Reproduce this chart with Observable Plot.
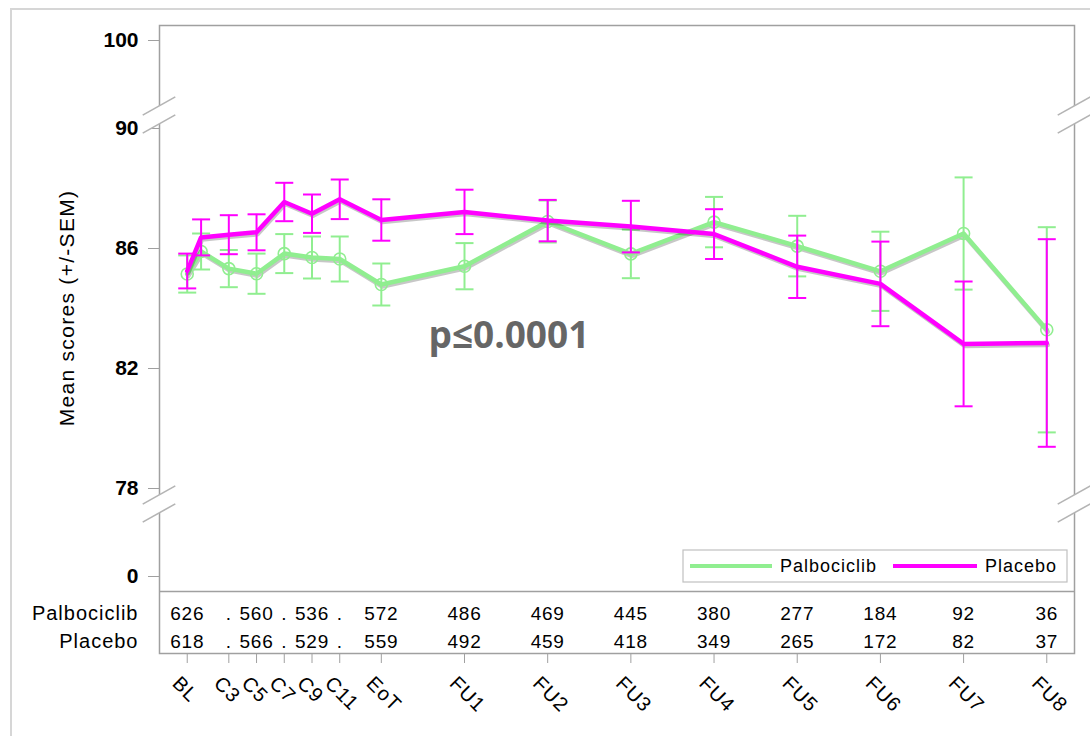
<!DOCTYPE html>
<html><head><meta charset="utf-8">
<script src="https://cdn.jsdelivr.net/npm/d3@7"></script>
<script src="https://cdn.jsdelivr.net/npm/@observablehq/plot@0.6"></script>
<style>
html,body{margin:0;padding:0;background:#fff;}
#wrap{position:relative;width:1090px;height:736px;overflow:hidden;}
#border{position:absolute;left:10px;top:8px;width:1100px;height:760px;border:2px solid #d6d6d6;box-sizing:border-box;}
#chart{position:absolute;left:0;top:0;}
g[aria-description="n-table"] text {letter-spacing:0.8px;}
g[aria-description="row-label"] text, g[aria-description="visit-label"] text, g[aria-label="legend"] text {letter-spacing:1px;}
g[aria-description="y-title"] text {letter-spacing:1.3px;}
</style></head><body>
<div id="wrap"><div id="border"></div><div id="chart"></div></div>
<script>
// ---- data ----
const visits      = ["BL","C1","C3","C5","C7","C9","C11","EoT","FU1","FU2","FU3","FU4","FU5","FU6","FU7","FU8"];
const visitTime   = [0, 1, 3, 5, 7, 9, 11, 14, 20, 26, 32, 38, 44, 50, 56, 62];
const palboMean   = [85.15, 85.90, 85.33, 85.16, 85.83, 85.70, 85.65, 84.80, 85.41, 86.90, 85.82, 86.88, 86.08, 85.24, 86.50, 83.29];
const palboSEM    = [0.62, 0.60, 0.62, 0.67, 0.65, 0.70, 0.75, 0.70, 0.77, 0.70, 0.81, 0.84, 1.01, 1.32, 1.87, 3.42];
const placeboMean = [85.25, 86.37, 86.46, 86.54, 87.55, 87.16, 87.64, 86.95, 87.22, 86.93, 86.73, 86.48, 85.39, 84.82, 82.82, 82.85];
const placeboSEM  = [0.58, 0.60, 0.65, 0.60, 0.64, 0.64, 0.66, 0.69, 0.74, 0.69, 0.86, 0.83, 1.04, 1.41, 2.08, 3.46];

const tickVisits  = ["BL","C3","C5","C7","C9","C11","EoT","FU1","FU2","FU3","FU4","FU5","FU6","FU7","FU8"];
const palboN      = ["626",".","560",".","536",".","572","486","469","445","380","277","184","92","36"];
const placeboN    = ["618",".","566",".","529",".","559","492","459","418","349","265","172","82","37"];

const seriesNames  = ["Palbociclib","Placebo"];
const seriesColors = ["#90EE90","#FF00FF"];
const yTicks       = [0, 78, 82, 86, 90, 100];
const yBreaks      = [0, 78, 90, 100];
const yTitle       = "Mean scores (+/-SEM)";
const pLabel       = {text: "p\u22640.0001", t: 23.2, v: 83.07};

// ---- derived tables ----
const timeOf = v => visitTime[visits.indexOf(v)];
const palbo = visits.map((v,i) => ({v, t: visitTime[i], mean: palboMean[i], sem: palboSEM[i]}));
const placebo = visits.map((v,i) => ({v, t: visitTime[i], mean: placeboMean[i], sem: placeboSEM[i]}));
const tableRows = tickVisits.map((v,i) => ({v, t: timeOf(v), a: palboN[i], b: placeboN[i]}));

const cap = {draw(ctx){ ctx.moveTo(-9,0); ctx.lineTo(9,0); }};

function errorBars(data, color) {
  return [
    Plot.ruleX(data, {x: "t", y1: d => d.mean - d.sem, y2: d => d.mean + d.sem, stroke: color, strokeWidth: 2}),
    Plot.dot(data, {x: "t", y: d => d.mean - d.sem, symbol: cap, fill: "none", stroke: color, strokeWidth: 2}),
    Plot.dot(data, {x: "t", y: d => d.mean + d.sem, symbol: cap, fill: "none", stroke: color, strokeWidth: 2})
  ];
}
function shadow(data) {
  return Plot.line(data, {x: "t", y: "mean", stroke: "#000", strokeOpacity: 0.22, strokeWidth: 4.5, dx: 1, dy: 2});
}

function breakMarks(index, scales, values, dims) {
  const g = d3.create("svg:g").attr("aria-label", "axis-break");
  const y = scales.y;
  const xs = [dims.marginLeft, dims.width - dims.marginRight];
  const centers = [y(yBreaks[2]) - 13, y(yBreaks[1]) + 16];
  for (const x of xs) for (const c of centers) {
    g.append("path")
      .attr("d", `M${x-16},${c}L${x+16},${c-18}L${x+16},${c}L${x-16},${c+18}Z`)
      .attr("fill", "white");
    for (const off of [-9, 9]) {
      g.append("line")
        .attr("x1", x - 16.3).attr("y1", c + off + 9.15)
        .attr("x2", x + 16.3).attr("y2", c + off - 9.15)
        .attr("stroke", "#b4b4b4").attr("stroke-width", 1.6);
    }
  }
  return g.node();
}

function legendMark(index, scales, values, dims) {
  const g = d3.create("svg:g").attr("aria-label", "legend");
  const right = dims.width - dims.marginRight - 7;
  const bottom = scales.y(0) + 6;
  const w = 384, h = 32;
  const L = right - w, T = bottom - h;
  g.append("rect").attr("x", L).attr("y", T).attr("width", w).attr("height", h)
    .attr("fill", "white").attr("stroke", "#c0c0c0").attr("stroke-width", 1.2);
  const items = [{x0: L + 7, x1: L + 89, tx: L + 97}, {x0: L + 210, x1: L + 294, tx: L + 302}];
  items.forEach((it, i) => {
    const cy = T + h / 2;
    g.append("line").attr("x1", it.x0).attr("x2", it.x1).attr("y1", cy).attr("y2", cy)
      .attr("stroke", seriesColors[i]).attr("stroke-width", 4);
    g.append("text").attr("x", it.tx).attr("y", cy + 6.2).attr("font-size", 18)
      .attr("text-anchor", "start").attr("fill", "#000").text(seriesNames[i]);
  });
  return g.node();
}

const chart = Plot.plot({
  width: 1090, height: 736,
  marginLeft: 159, marginRight: 16, marginTop: 25, marginBottom: 83,
  style: {fontFamily: "'Liberation Sans', Arial, sans-serif", fontSize: "20px", background: "transparent", overflow: "visible"},
  x: {domain: [-2, 64], axis: null},
  y: {type: "linear", domain: yBreaks, range: [576, 488, 128, 40], axis: null},
  marks: [
    Plot.frame({stroke: "#a0a0a0", strokeWidth: 1.5}),
    Plot.ruleY([0], {dy: 15, stroke: "#a0a0a0", strokeWidth: 1.5}),
    Plot.axisY({ticks: yTicks, tickSize: 11, tickPadding: 10, fontSize: 21, fontWeight: "bold", stroke: "#a0a0a0", fill: "#000", label: null}),
    Plot.axisX({ticks: tableRows.map(d => d.t), tickFormat: () => "", tickSize: 10, stroke: "#a0a0a0", label: null}),
    breakMarks,
    // Palbociclib
    shadow(palbo),
    ...errorBars(palbo, seriesColors[0]),
    Plot.line(palbo, {x: "t", y: "mean", stroke: seriesColors[0], strokeWidth: 4.5}),
    Plot.dot(palbo, {x: "t", y: "mean", r: 6, fill: "none", stroke: seriesColors[0], strokeWidth: 1.6}),
    // Placebo
    shadow(placebo),
    ...errorBars(placebo, seriesColors[1]),
    Plot.line(placebo, {x: "t", y: "mean", stroke: seriesColors[1], strokeWidth: 4.5}),
    // p-value annotation
    Plot.text([pLabel], {x: "t", y: "v", text: "text", fontSize: 37, fontWeight: "bold", fill: "#666", fontFamily: "'Open Sans', sans-serif"}),
    // N table
    Plot.text(tableRows, {x: "t", text: "a", frameAnchor: "bottom", lineAnchor: "middle", dy: -40, fontSize: 19, fill: "#000", ariaDescription: "n-table"}),
    Plot.text(tableRows, {x: "t", text: "b", frameAnchor: "bottom", lineAnchor: "middle", dy: -12, fontSize: 19, fill: "#000", ariaDescription: "n-table"}),
    Plot.text([seriesNames[0]], {frameAnchor: "bottom-left", text: d => d, textAnchor: "end", lineAnchor: "middle", dx: -21, dy: -40, fontSize: 20, fill: "#000", ariaDescription: "row-label"}),
    Plot.text([seriesNames[1]], {frameAnchor: "bottom-left", text: d => d, textAnchor: "end", lineAnchor: "middle", dx: -21, dy: -12, fontSize: 20, fill: "#000", ariaDescription: "row-label"}),
    // visit labels
    Plot.text(tableRows, {x: "t", text: "v", frameAnchor: "bottom", rotate: 45, textAnchor: "start", lineAnchor: "middle", dx: -11.5, dy: 26.5, fontSize: 20, fill: "#000", ariaDescription: "visit-label"}),
    // y title
    Plot.text([yTitle], {frameAnchor: "left", text: d => d, rotate: -90, textAnchor: "middle", lineAnchor: "middle", dx: -92.3, dy: -31.5, fontSize: 21, fill: "#000", ariaDescription: "y-title"}),
    legendMark
  ]
});
document.getElementById("chart").appendChild(chart);
</script>
</body></html>
